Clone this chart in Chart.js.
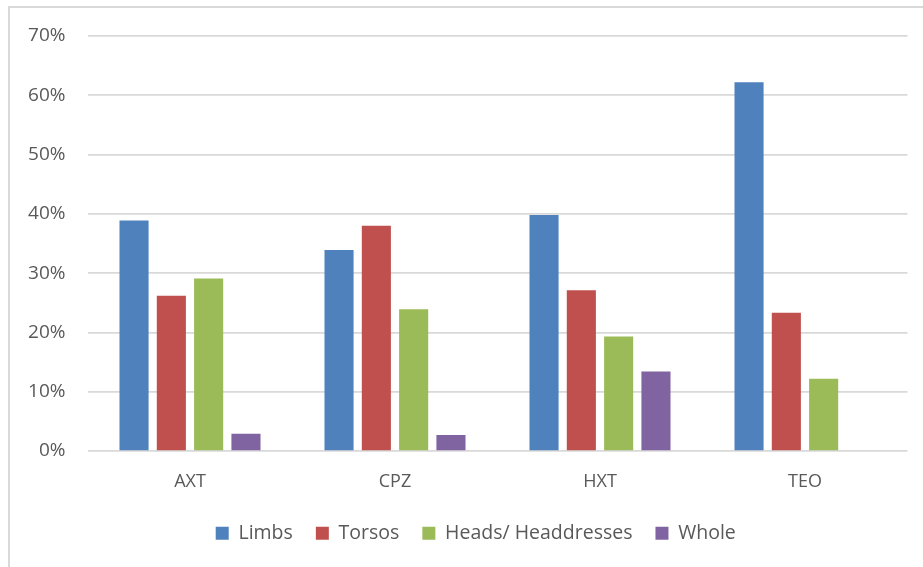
<!DOCTYPE html>
<html>
<head>
<meta charset="utf-8">
<script src="https://cdn.jsdelivr.net/npm/chart.js@4.4.1/dist/chart.umd.min.js"></script>
<style>
  html, body { margin: 0; padding: 0; background: #fff; }
  #frame { position: absolute; left: 8px; top: 6px; width: 960px; height: 600px;
           border-left: 2px solid #d9d9d9; border-top: 2px solid #d9d9d9; }
  #wrap { position: absolute; left: 0; top: 0; width: 923px; height: 567px; }
</style>
</head>
<body>
<div id="frame"></div>
<div id="wrap"><canvas id="chart"></canvas></div>
<script>
const sites = ['AXT', 'CPZ', 'HXT', 'TEO'];
const limbs = [38.9, 33.9, 39.8, 62.2];
const torsos = [26.2, 38.0, 27.1, 23.3];
const heads = [29.1, 23.9, 19.3, 12.2];
const whole = [2.9, 2.7, 13.4, 0];

const TEXT = '#595959';
const FONT = 'Open Sans';

function bar(label, data, color) {
  return {
    label, data,
    backgroundColor: color, borderWidth: 0,
    categoryPercentage: 0.728, barPercentage: 0.78
  };
}

// legend sits centred under the plot rather than the canvas
const shiftLegend = {
  id: 'shiftLegend',
  afterLayout(chart) { chart.legend.left += 22; chart.legend.right += 22; }
};

new Chart(document.getElementById('chart'), {
  type: 'bar',
  data: {
    labels: sites,
    datasets: [
      bar('Limbs', limbs, '#4f81bd'),
      bar('Torsos', torsos, '#c0504d'),
      bar('Heads/ Headdresses', heads, '#9bbb59'),
      bar('Whole', whole, '#8064a2')
    ]
  },
  plugins: [shiftLegend],
  options: {
    responsive: true, maintainAspectRatio: false, animation: false,
    layout: { padding: { top: 36, right: 15.5, left: 0, bottom: 14 } },
    plugins: {
      tooltip: { enabled: false },
      legend: {
        position: 'bottom',
        labels: { color: TEXT, font: { family: FONT, size: 19.5 }, boxWidth: 13, boxHeight: 13, padding: 23 }
      }
    },
    scales: {
      x: {
        grid: { display: false, drawTicks: false },
        border: { display: false },
        ticks: { color: TEXT, font: { family: FONT, size: 18 }, padding: 20 },
        afterFit: s => { s.height = 49.5; }
      },
      y: {
        min: 0, max: 70,
        grid: { color: '#d9d9d9', lineWidth: 1.7, drawTicks: false },
        border: { display: false },
        ticks: { stepSize: 10, color: TEXT, font: { family: FONT, size: 19 }, padding: 22,
                 callback: v => v + '%' },
        afterFit: s => { s.width = 87.5; }
      }
    }
  }
});
</script>
</body>
</html>
